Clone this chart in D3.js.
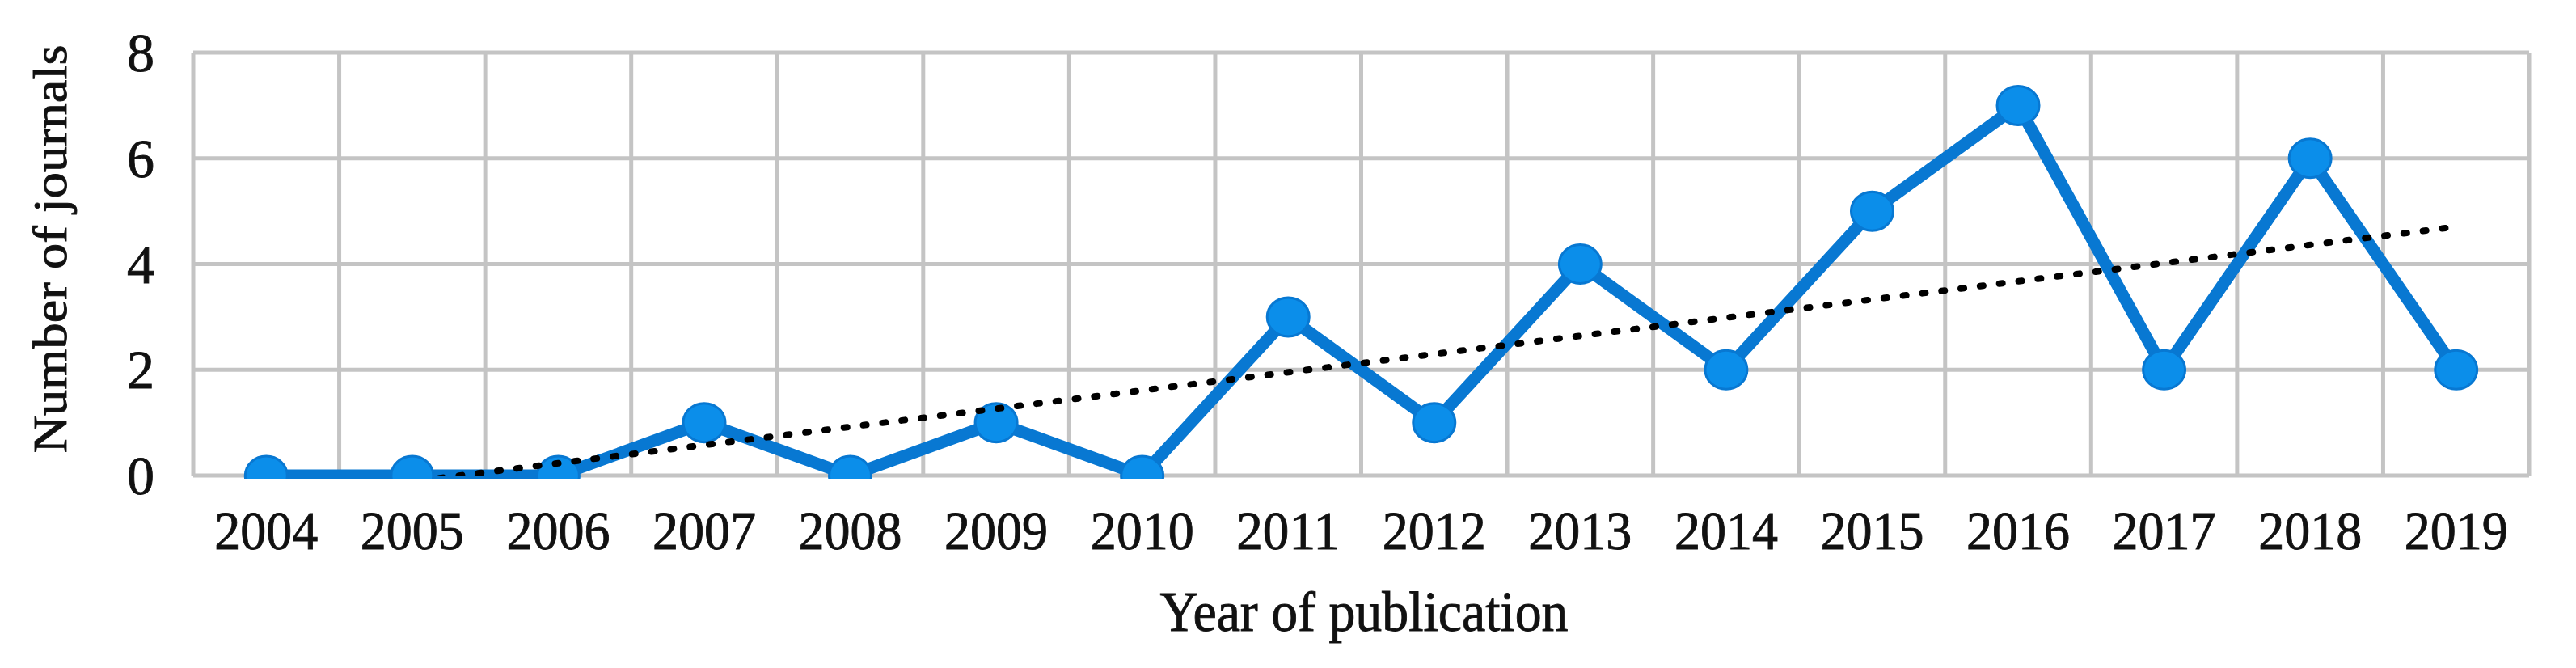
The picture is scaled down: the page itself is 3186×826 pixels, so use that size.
<!DOCTYPE html>
<html>
<head>
<meta charset="utf-8">
<script src="https://cdn.jsdelivr.net/npm/d3@7"></script>
<style>
  html, body { margin: 0; padding: 0; background: #ffffff; }
  svg { display: block; }
  text { font-family: "Liberation Serif", "DejaVu Serif", serif; fill: #111; stroke: #111; stroke-width: 0.9px; }
</style>
</head>
<body>
<svg id="chart" width="3186" height="826"></svg>
<script>
// ---- data ----
const years = ["2004","2005","2006","2007","2008","2009","2010","2011","2012","2013","2014","2015","2016","2017","2018","2019"];
const journals = [0,0,0,1,0,1,0,3,1,4,2,5,7,2,6,2];
const yTicks = [0,2,4,6,8];
const xTitle = "Year of publication";
const yTitle = "Number of journals";

// ---- layout ----
const plot = { left: 239, right: 3128, top: 65, bottom: 588 };

const svg = d3.select("#chart");

const x = d3.scaleBand().domain(years).range([plot.left, plot.right]).padding(0);
const y = d3.scaleLinear().domain([0, 8]).range([plot.bottom, plot.top]);
const cx = d => x(d) + x.bandwidth() / 2;

const gridColor = "#c4c4c4";

// horizontal gridlines
svg.append("g").selectAll("line").data(yTicks).join("line")
  .attr("x1", plot.left).attr("x2", plot.right)
  .attr("y1", d => y(d)).attr("y2", d => y(d))
  .attr("stroke", gridColor).attr("stroke-width", 5);

// vertical gridlines at category boundaries
const bounds = years.map(d => x(d)).concat([plot.right]);
svg.append("g").selectAll("line").data(bounds).join("line")
  .attr("x1", d => d).attr("x2", d => d)
  .attr("y1", plot.top).attr("y2", plot.bottom)
  .attr("stroke", gridColor).attr("stroke-width", 5);

// y tick labels
svg.append("g").selectAll("text").data(yTicks).join("text")
  .attr("x", 174).attr("y", d => y(d))
  .attr("dy", "0.34em")
  .attr("text-anchor", "middle")
  .attr("font-size", 68)
  .text(d => d);

// x tick labels
svg.append("g").selectAll("text").data(years).join("text")
  .attr("x", d => cx(d)).attr("y", 679)
  .attr("text-anchor", "middle")
  .attr("font-size", 68)
  .attr("textLength", 128).attr("lengthAdjust", "spacingAndGlyphs")
  .text(d => d);

// axis titles
svg.append("text")
  .attr("x", 1687).attr("y", 780)
  .attr("text-anchor", "middle")
  .attr("font-size", 70)
  .attr("textLength", 505).attr("lengthAdjust", "spacingAndGlyphs")
  .text(xTitle);

svg.append("text")
  .attr("transform", "translate(82,308) rotate(-90)")
  .attr("text-anchor", "middle")
  .attr("font-size", 60)
  .attr("textLength", 505).attr("lengthAdjust", "spacingAndGlyphs")
  .text(yTitle);

// clip to plot area
svg.append("clipPath").attr("id", "plotclip")
  .append("rect")
  .attr("x", plot.left).attr("y", plot.top)
  .attr("width", plot.right - plot.left).attr("height", plot.bottom - plot.top + 4);

const lineColor = "#0878d2";
const markerFill = "#0b8eea";

const series = years.map((yr, i) => ({ yr, v: journals[i] }));

const line = d3.line().x(d => cx(d.yr)).y(d => y(d.v));

const g = svg.append("g").attr("clip-path", "url(#plotclip)");

g.append("path").datum(series)
  .attr("d", line)
  .attr("fill", "none")
  .attr("stroke", lineColor)
  .attr("stroke-width", 15)
  .attr("stroke-linejoin", "round");

g.append("g").selectAll("ellipse").data(series).join("ellipse")
  .attr("cx", d => cx(d.yr)).attr("cy", d => y(d.v))
  .attr("rx", 26).attr("ry", 24)
  .attr("fill", markerFill)
  .attr("stroke", lineColor).attr("stroke-width", 3);

// linear trendline (least squares over the series)
const n = journals.length;
const xs = d3.range(1, n + 1);
const mx = d3.mean(xs), my = d3.mean(journals);
const slope = d3.sum(xs, (xi, i) => (xi - mx) * (journals[i] - my)) / d3.sum(xs, xi => (xi - mx) ** 2);
const intercept = my - slope * mx;
const xIdx = d3.scaleLinear().domain([1, n]).range([cx(years[0]), cx(years[n - 1])]);
svg.append("clipPath").attr("id", "trendclip")
  .append("rect")
  .attr("x", plot.left).attr("y", plot.top)
  .attr("width", plot.right - plot.left).attr("height", plot.bottom - plot.top);
svg.append("line")
  .attr("clip-path", "url(#trendclip)")
  .attr("x1", xIdx(1)).attr("y1", y(intercept + slope * 1))
  .attr("x2", xIdx(n)).attr("y2", y(intercept + slope * n))
  .attr("stroke", "#000")
  .attr("stroke-width", 8)
  .attr("stroke-linecap", "round")
  .attr("stroke-dasharray", "4 20");
</script>
</body>
</html>
